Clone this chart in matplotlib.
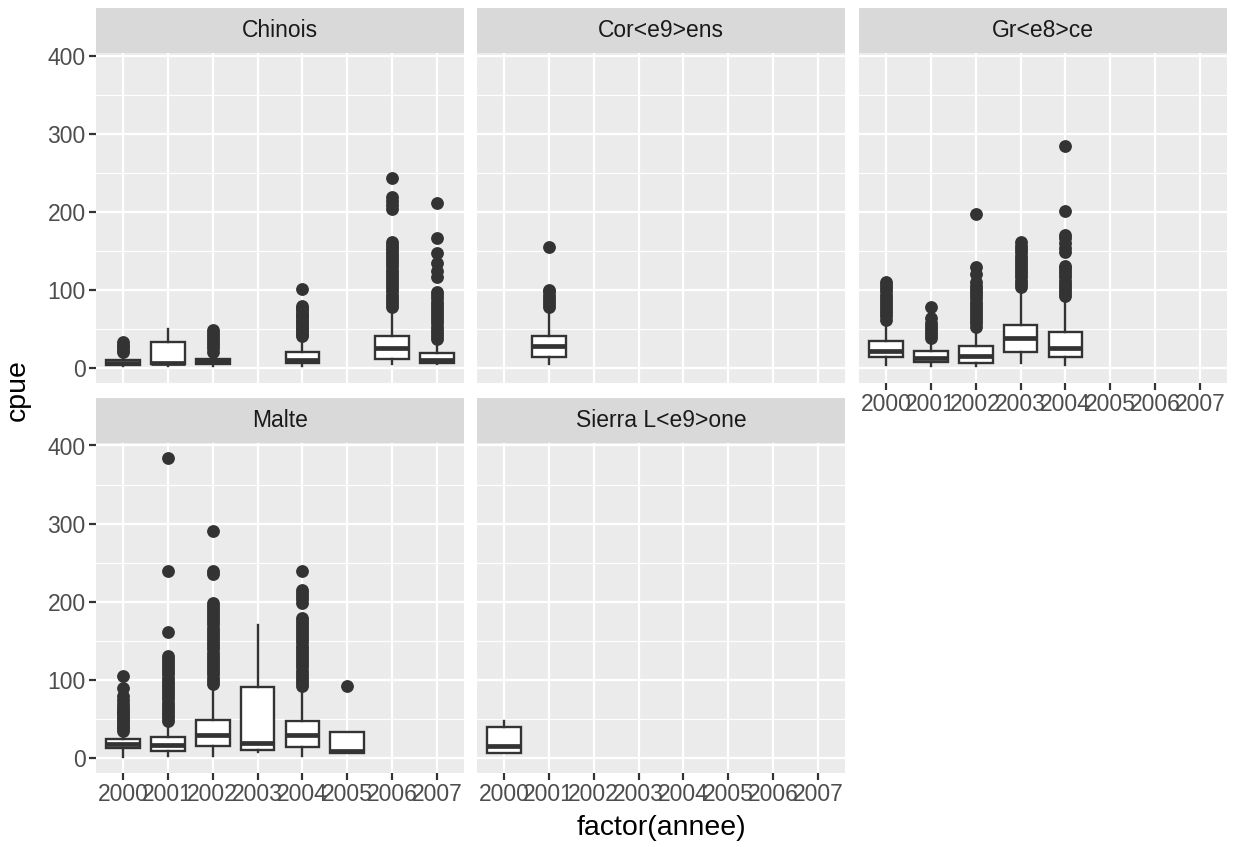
import matplotlib
matplotlib.use("Agg")
import matplotlib.pyplot as plt

W, H = 1235, 847
DPI = 100

years = ["2000", "2001", "2002", "2003", "2004", "2005", "2006", "2007"]
y_ticks = [0, 100, 200, 300, 400]
y_minor = [50, 150, 250, 350]

# ---- Chinois ----
chinois_years = ["2000", "2001", "2002", "2004", "2006", "2007"]
chinois_stats = [  # whislo, q1, med, q3, whishi
    (2, 4, 7, 10, 17),
    (3, 4.5, 7, 33, 50),
    (2, 4.5, 8.5, 12, 19),
    (2, 6, 10, 20, 37),
    (5, 12, 25.6, 41.4, 75),
    (5, 6, 10, 19, 33),
]
chinois_fliers = [
    [20, 23, 27, 30, 33],
    [],
    [21, 25, 29, 33, 37, 41, 45, 49],
    [41, 44, 47, 50, 53, 56, 59, 62, 65, 68, 71, 74, 77, 80, 101],
    [78, 82, 86, 90, 94, 98, 102, 106, 110, 114, 118, 122, 126, 130, 134, 138,
     142, 146, 150, 154, 158, 161, 204, 209, 214, 219, 243],
    [37, 41, 45, 49, 53, 57, 61, 65, 69, 73, 77, 81, 85, 89, 93, 97, 116, 124,
     134, 147, 167, 211],
]

# ---- Cor<e9>ens ----
coreens_years = ["2001"]
coreens_stats = [(5, 14.5, 28, 40.6, 73.5)]
coreens_fliers = [[78, 82, 86, 90, 94, 98, 100, 155]]

# ---- Gr<e8>ce ----
grece_years = ["2000", "2001", "2002", "2003", "2004"]
grece_stats = [
    (4, 13.7, 21.4, 35, 58.6),
    (2, 7.3, 13, 21.4, 34),
    (2, 7, 15, 27.8, 50),
    (6.4, 21, 38.5, 55.6, 100),
    (4, 13.7, 25.2, 45.7, 88),
]
grece_fliers = [
    [62, 66, 70, 74, 78, 82, 86, 90, 94, 98, 102, 106, 110],
    [38, 42, 46, 50, 54, 57, 64, 78],
    [53, 57, 61, 65, 69, 73, 77, 81, 85, 89, 93, 97, 101, 105, 110, 120, 129, 197],
    [104, 108, 112, 116, 120, 124, 128, 132, 136, 140, 144, 148, 152, 156, 161],
    [92, 96, 100, 104, 108, 112, 116, 120, 124, 128, 131, 148, 154, 160, 166,
     170, 201, 284],
]

# ---- Malte ----
malte_years = ["2000", "2001", "2002", "2003", "2004", "2005"]
malte_stats = [
    (1.7, 13, 18, 24, 31.6),
    (3, 9, 17, 27.4, 44.4),
    (3, 15.8, 29.5, 48.7, 91.5),
    (8, 10.2, 18.8, 91.5, 170.5),
    (3, 14.5, 29.5, 47.4, 89),
    (6.8, 6.8, 9, 33.8, 33.8),
]
malte_fliers = [
    [35, 38, 41, 44, 47, 50, 53, 56, 59, 62, 65, 69, 74, 80, 90, 105],
    [47, 51, 55, 59, 63, 67, 71, 75, 79, 83, 87, 91, 95, 99, 103, 107, 111, 115,
     119, 123, 127, 131, 161, 240, 384],
    [95, 99, 103, 107, 111, 115, 119, 123, 127, 131, 135, 139, 143, 147, 151,
     155, 159, 163, 167, 171, 175, 179, 183, 187, 191, 195, 199, 236, 240, 290],
    [],
    [92, 96, 100, 104, 108, 112, 116, 120, 124, 128, 132, 136, 140, 144, 148,
     152, 156, 160, 164, 168, 172, 176, 179, 199, 203, 207, 211, 215, 240],
    [92.7],
]

# ---- Sierra L<e9>one ----
sierra_years = ["2000"]
sierra_stats = [(6, 6, 15.4, 40, 47.8)]
sierra_fliers = [[]]

panels = [
    ("Chinois", chinois_years, chinois_stats, chinois_fliers),
    ("Cor<e9>ens", coreens_years, coreens_stats, coreens_fliers),
    ("Gr<e8>ce", grece_years, grece_stats, grece_fliers),
    ("Malte", malte_years, malte_stats, malte_fliers),
    ("Sierra L<e9>one", sierra_years, sierra_stats, sierra_fliers),
]

plt.rcParams['font.family'] = ['Liberation Sans', 'DejaVu Sans']

fig = plt.figure(figsize=(W / DPI, H / DPI), dpi=DPI)
fig.patch.set_facecolor('white')

col_left = [96, 477, 859]
panel_w = 368
strip_h = 45
row_strip_top = [8, 398]
plot_h = 330

DARK = '#333333'
TICK_FS = 16.5
TITLE_FS = 20.5
LW = 1.7


def fig_rect(x, y, w, h):
    return [x / W, 1 - (y + h) / H, w / W, h / H]


for i, (name, yrs, stats, fliers) in enumerate(panels):
    r, c = divmod(i, 3)
    left = col_left[c]
    st = row_strip_top[r]
    # strip
    sax = fig.add_axes(fig_rect(left, st, panel_w, strip_h))
    sax.set_facecolor('#D9D9D9')
    sax.set_xticks([]); sax.set_yticks([])
    for s in sax.spines.values():
        s.set_visible(False)
    sax.text(0.5, 0.5, name, ha='center', va='center', fontsize=TICK_FS,
             color='#1A1A1A', transform=sax.transAxes)
    # panel
    ax = fig.add_axes(fig_rect(left, st + strip_h, panel_w, plot_h))
    ax.set_facecolor('#EBEBEB')
    for s in ax.spines.values():
        s.set_visible(False)
    ax.set_axisbelow(True)
    ax.set_xlim(0.4, 8.6)
    ax.set_ylim(-19.2, 403.2)
    ax.set_xticks(range(1, len(years) + 1))
    ax.set_xticklabels(years)
    ax.set_yticks(y_ticks)
    ax.set_yticks(y_minor, minor=True)
    ax.set_yticklabels([str(v) for v in y_ticks])
    ax.grid(which='major', color='white', linewidth=1.6)
    ax.grid(which='minor', axis='y', color='white', linewidth=0.8)
    ax.tick_params(axis='both', which='major', length=5, width=1.6,
                   color=DARK, labelsize=TICK_FS, labelcolor='#4D4D4D', pad=2.5)
    ax.tick_params(axis='y', which='minor', length=0)

    show_x = (r == 1) or (i == 2)
    show_y = (c == 0)
    if not show_x:
        ax.tick_params(axis='x', bottom=False, labelbottom=False)
    if not show_y:
        ax.tick_params(axis='y', left=False, labelleft=False)

    bstats = []
    positions = []
    for yr, (lo, q1, med, q3, hi), fl in zip(yrs, stats, fliers):
        bstats.append(dict(label=yr, whislo=lo, q1=q1, med=med, q3=q3,
                           whishi=hi, fliers=fl))
        positions.append(years.index(yr) + 1)
    ax.bxp(bstats, positions=positions, widths=0.75, patch_artist=True,
           showcaps=False, manage_ticks=False,
           boxprops=dict(facecolor='white', edgecolor=DARK, linewidth=LW),
           medianprops=dict(color=DARK, linewidth=3.4, solid_capstyle='butt'),
           whiskerprops=dict(color=DARK, linewidth=LW),
           flierprops=dict(marker='o', markerfacecolor=DARK,
                           markeredgecolor=DARK, markersize=8.2,
                           linestyle='none'))

fig.text(18 / W, 1 - 390 / H, 'cpue', rotation=90, ha='center', va='center',
         fontsize=TITLE_FS, color='black')
fig.text(661 / W, 1 - 828 / H, 'factor(annee)', ha='center', va='center',
         fontsize=TITLE_FS, color='black')

fig.savefig('out.png', dpi=DPI)
